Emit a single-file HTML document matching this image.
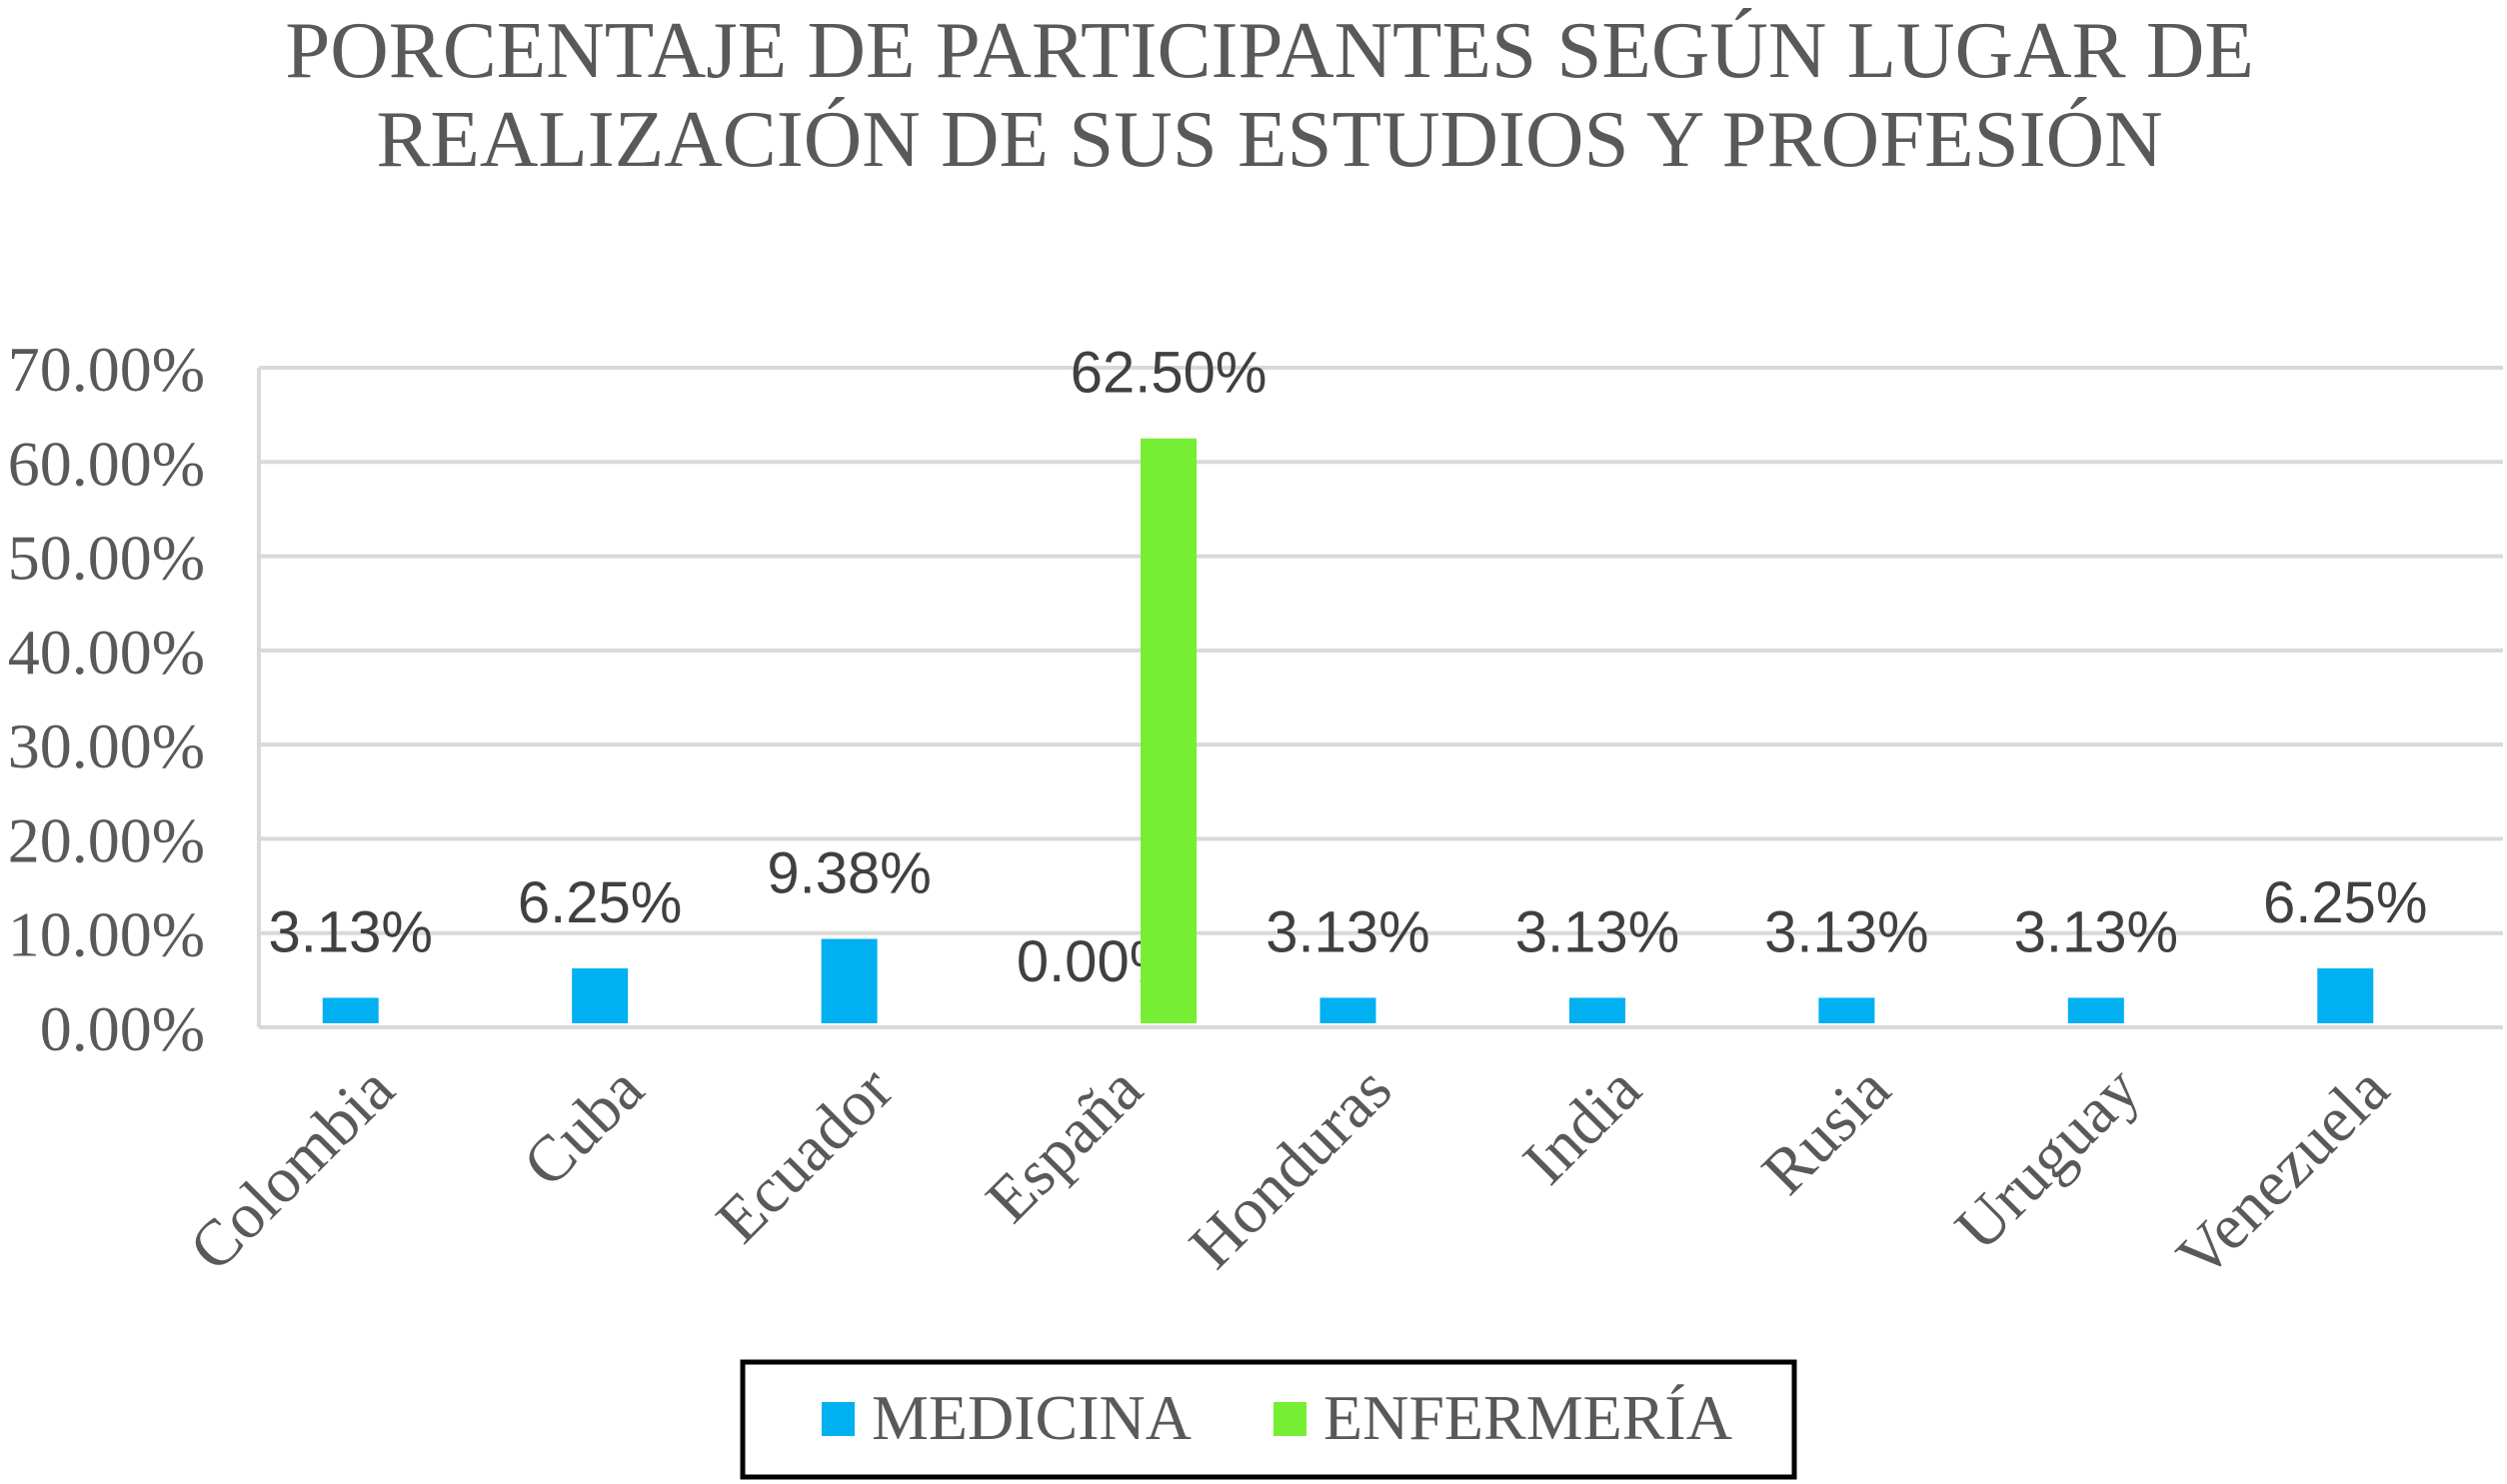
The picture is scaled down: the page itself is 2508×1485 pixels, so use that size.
<!DOCTYPE html>
<html><head><meta charset="utf-8"><style>
html,body{margin:0;padding:0;background:#fff;}
svg{display:block;}
</style></head><body>
<svg id="chart" width="2508" height="1485" xmlns="http://www.w3.org/2000/svg">
<text x="1270" y="77" text-anchor="middle" font-family="Liberation Serif, serif" font-size="81" fill="#595959">PORCENTAJE DE PARTICIPANTES SEGÚN LUGAR DE</text>
<text x="1270" y="166" text-anchor="middle" font-family="Liberation Serif, serif" font-size="81" fill="#595959">REALIZACIÓN DE SUS ESTUDIOS Y PROFESIÓN</text>
<g id="grid"></g>
<g id="yticks"></g>
<g id="bars"></g>
<g id="xlabels"></g>
<g>
<rect x="743" y="1363" width="1052" height="115" fill="#fff" stroke="#000" stroke-width="5"/>
<rect x="822" y="1403" width="33" height="34" fill="#00B0F0"/>
<text x="872" y="1440" font-family="Liberation Serif, serif" font-size="64" fill="#595959">MEDICINA</text>
<rect x="1274" y="1403" width="33" height="34" fill="#76EE33"/>
<text x="1324" y="1440" font-family="Liberation Serif, serif" font-size="64" fill="#595959">ENFERMERÍA</text>
</g>
</svg>
<script>
const categories = ["Colombia","Cuba","Ecuador","España","Honduras","India","Rusia","Uruguay","Venezuela"];
const medicina = [3.13,6.25,9.38,0.00,3.13,3.13,3.13,3.13,6.25];
const enfermeria = [null,null,null,62.50,null,null,null,null,null];
const yTicks = [0,10,20,30,40,50,60,70];
const NS="http://www.w3.org/2000/svg";
const L=259,R=2504,T=368,B=1028,YMAX=70;
const bw=(R-L)/categories.length;
function y(v){return B-(v/YMAX)*(B-T);}
function cx(i){return L+bw*(i+0.5);}
function mk(tag,attrs,parent){const e=document.createElementNS(NS,tag);for(const k in attrs)e.setAttribute(k,attrs[k]);parent.appendChild(e);return e;}
const grid=document.getElementById('grid'),yt=document.getElementById('yticks'),bars=document.getElementById('bars'),xl=document.getElementById('xlabels');
yTicks.forEach(t=>{
  const ln=mk('line',{x1:L,x2:R,y1:y(t),y2:y(t),stroke:'#d9d9d9','stroke-width':4},grid);
  
  
  const tx=mk('text',{x:205,y:y(t)+23,'text-anchor':'end','font-family':'Liberation Serif, serif','font-size':64,fill:'#595959'},yt);
  tx.textContent=t.toFixed(2)+'%';
  
  
});
const ax=mk('line',{x1:L,x2:L,y1:T,y2:B,stroke:'#d9d9d9','stroke-width':4},grid);


function label(x,v,parent){
  const t=mk('text',{x:x,y:y(v)-46,'text-anchor':'middle','font-family':'Liberation Sans, sans-serif','font-size':58,fill:'#404040'},parent);
  t.textContent=v.toFixed(2)+'%';
  
  
}
categories.forEach((c,i)=>{
  const m=medicina[i];
  if(m!==null){
    const r=mk('rect',{x:cx(i)-61,y:y(m),width:56,height:B-y(m)-4,fill:'#00B0F0'},bars);
    
    
    label(cx(i)-33,m,bars);
  }
  const e=enfermeria[i];
  if(e!==null){
    const r=mk('rect',{x:cx(i)+9,y:y(e),width:56,height:B-y(e)-4,fill:'#76EE33'},bars);
    
    
    label(cx(i)+37,e,bars);
  }
  const X=cx(i)+14,Y=1094;
  const t=mk('text',{x:X,y:Y,'text-anchor':'end','font-family':'Liberation Serif, serif','font-size':65,fill:'#595959',transform:'rotate(-45 '+X+' '+Y+')'},xl);
  t.textContent=c;
  
  
});
</script>
</body></html>
